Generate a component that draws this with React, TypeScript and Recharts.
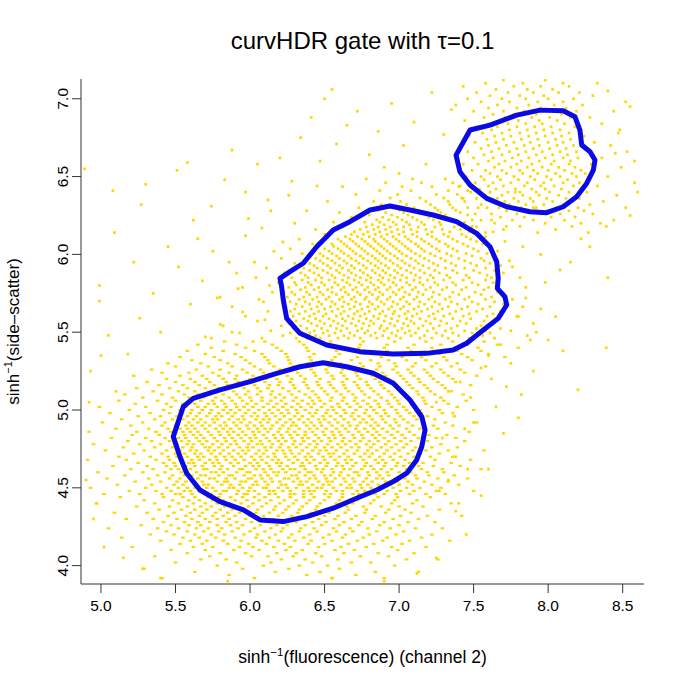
import { Scatter, ScatterChart, XAxis, YAxis } from "recharts";

// axis ticks
const X_TICKS = [5.0, 5.5, 6.0, 6.5, 7.0, 7.5, 8.0, 8.5];
const Y_TICKS = [4.0, 4.5, 5.0, 5.5, 6.0, 6.5, 7.0];

// gate contours (closed)
const GATE_LOW = [
  [5.485, 4.829], [5.552, 5.021], [5.619, 5.075], [5.798, 5.129], [6.0, 5.182],
  [6.179, 5.236], [6.335, 5.278], [6.491, 5.304], [6.648, 5.278], [6.827, 5.236],
  [6.961, 5.172], [7.073, 5.064], [7.152, 4.957], [7.174, 4.872], [7.152, 4.764],
  [7.118, 4.679], [7.051, 4.594], [6.961, 4.54], [6.85, 4.486], [6.715, 4.433],
  [6.558, 4.369], [6.38, 4.315], [6.223, 4.283], [6.067, 4.294], [5.955, 4.358],
  [5.798, 4.411], [5.664, 4.486], [5.575, 4.594], [5.53, 4.7],
];
const GATE_MID = [
  [6.805, 6.285], [6.939, 6.311], [7.073, 6.285], [7.229, 6.253], [7.386, 6.21],
  [7.52, 6.135], [7.61, 6.049], [7.655, 5.953], [7.665, 5.846], [7.659, 5.782],
  [7.71, 5.728], [7.722, 5.675], [7.665, 5.589], [7.565, 5.514], [7.453, 5.429],
  [7.363, 5.386], [7.185, 5.364], [6.961, 5.36], [6.738, 5.375], [6.514, 5.418],
  [6.335, 5.493], [6.246, 5.589], [6.223, 5.707], [6.212, 5.792], [6.201, 5.846],
  [6.268, 5.889], [6.357, 5.943], [6.447, 6.049], [6.558, 6.157], [6.67, 6.21],
];
const GATE_HIGH = [
  [7.382, 6.638], [7.476, 6.799], [7.61, 6.831], [7.789, 6.895], [7.945, 6.927],
  [8.101, 6.923], [8.18, 6.884], [8.213, 6.799], [8.225, 6.703], [8.281, 6.66],
  [8.314, 6.606], [8.303, 6.542], [8.258, 6.456], [8.191, 6.37], [8.101, 6.306],
  [7.99, 6.268], [7.878, 6.274], [7.722, 6.306], [7.588, 6.36], [7.476, 6.446],
  [7.408, 6.531],
];

// events of the lower population; side-scatter is binned there: [y, x values]
const LOWER_ROWS: [number, number[]][] = [
  [3.92, [5.41, 6.03, 6.55, 6.9]],
  [3.94, [5.86, 6.38, 6.71]],
  [3.96, [5.63, 6.17, 6.47, 6.84, 7.13]],
  [3.98, [5.29, 5.95, 6.26, 6.6]],
  [4.0, [5.78, 6.09, 6.33, 6.52, 6.97]],
  [4.02, [5.5, 5.91, 6.14, 6.42, 6.68, 6.81]],
  [4.04, [5.67, 5.84, 6.21, 6.37, 6.59, 7.05, 7.26]],
  [4.06, [5.36, 5.73, 6.01, 6.12, 6.29, 6.48, 6.74, 6.93]],
  [4.08, [5.58, 5.8, 5.97, 6.18, 6.31, 6.44, 6.63, 6.86, 7.1]],
  [4.1, [5.47, 5.7, 5.89, 6.06, 6.24, 6.35, 6.57, 6.7, 6.99]],
  [4.12, [5.21, 5.62, 5.75, 5.93, 6.02, 6.16, 6.27, 6.46, 6.61, 6.78, 6.95, 7.18]],
  [4.14, [5.53, 5.68, 5.85, 5.99, 6.11, 6.23, 6.39, 6.5, 6.66, 6.83, 7.02]],
  [4.16, [5.4, 5.6, 5.71, 5.82, 5.94, 6.08, 6.19, 6.3, 6.41, 6.55, 6.72, 6.89, 7.07, 7.34]],
  [4.18, [5.14, 5.55, 5.66, 5.77, 5.9, 6.04, 6.13, 6.26, 6.36, 6.49, 6.62, 6.76, 6.92, 7.15]],
  [4.2, [5.33, 5.49, 5.63, 5.74, 5.83, 5.96, 6.05, 6.17, 6.28, 6.4, 6.53, 6.64, 6.8, 6.98, 7.22]],
  [4.22, [5.44, 5.58, 5.69, 5.79, 5.88, 6.0, 6.1, 6.21, 6.33, 6.45, 6.58, 6.69, 6.85, 7.03]],
  [4.24, [5.05, 5.38, 5.52, 5.64, 5.72, 5.81, 5.92, 6.03, 6.14, 6.22, 6.34, 6.43, 6.56, 6.67, 6.79, 6.94, 7.11, 7.29]],
  [4.26, [5.27, 5.47, 5.59, 5.67, 5.78, 5.87, 5.95, 6.07, 6.18, 6.25, 6.37, 6.48, 6.6, 6.73, 6.87, 7.0]],
  [4.28, [5.42, 5.56, 5.65, 5.73, 5.84, 5.91, 6.01, 6.12, 6.2, 6.31, 6.42, 6.51, 6.63, 6.75, 6.9, 7.06, 7.24]],
  [4.3, [5.17, 5.35, 5.51, 5.61, 5.7, 5.78, 5.86, 5.97, 6.06, 6.15, 6.27, 6.36, 6.46, 6.57, 6.68, 6.82, 6.96, 7.13]],
  [4.32, [5.45, 5.57, 5.66, 5.75, 5.82, 5.9, 6.0, 6.09, 6.19, 6.28, 6.39, 6.5, 6.59, 6.71, 6.84, 7.01, 7.19, 7.42]],
  [4.34, [5.09, 5.31, 5.49, 5.6, 5.68, 5.77, 5.85, 5.93, 6.04, 6.13, 6.22, 6.32, 6.41, 6.53, 6.64, 6.77, 6.91, 7.08]],
  [4.36, [5.39, 5.54, 5.63, 5.71, 5.8, 5.88, 5.96, 6.05, 6.16, 6.24, 6.33, 6.44, 6.55, 6.66, 6.78, 6.93, 7.04, 7.27]],
  [4.38, [5.24, 5.46, 5.58, 5.67, 5.74, 5.83, 5.91, 5.99, 6.08, 6.17, 6.26, 6.35, 6.45, 6.56, 6.65, 6.76, 6.88, 7.0, 7.16]],
  [4.4, [4.97, 5.36, 5.52, 5.62, 5.7, 5.78, 5.86, 5.94, 6.02, 6.11, 6.2, 6.29, 6.38, 6.47, 6.58, 6.69, 6.81, 6.95, 7.09, 7.35]],
  [4.42, [5.29, 5.48, 5.59, 5.66, 5.75, 5.82, 5.9, 5.98, 6.06, 6.14, 6.23, 6.31, 6.4, 6.5, 6.6, 6.72, 6.83, 6.97, 7.12]],
  [4.44, [5.13, 5.42, 5.55, 5.63, 5.72, 5.79, 5.87, 5.95, 6.03, 6.1, 6.19, 6.27, 6.36, 6.43, 6.53, 6.62, 6.74, 6.86, 6.99, 7.21]],
  [4.46, [5.02, 5.26, 5.41, 5.5, 5.53, 5.61, 5.7, 5.74, 5.8, 5.91, 5.96, 5.98, 6.06, 6.13, 6.17, 6.27, 6.3, 6.36, 6.41, 6.5, 6.54, 6.62, 6.69, 6.73, 6.84, 6.9, 6.98, 7.07, 7.18, 7.31]],
  [4.48, [5.19, 5.37, 5.47, 5.56, 5.6, 5.66, 5.77, 5.82, 5.84, 5.92, 5.99, 6.03, 6.13, 6.16, 6.22, 6.27, 6.36, 6.4, 6.43, 6.51, 6.58, 6.62, 6.72, 6.77, 6.83, 6.92, 7.01, 7.1, 7.25, 7.5]],
  [4.5, [4.93, 5.3, 5.44, 5.52, 5.58, 5.63, 5.71, 5.75, 5.86, 5.89, 5.95, 6.0, 6.09, 6.11, 6.19, 6.25, 6.31, 6.39, 6.45, 6.48, 6.56, 6.65, 6.68, 6.75, 6.81, 6.88, 6.96, 7.05, 7.14, 7.28]],
  [4.52, [5.11, 5.34, 5.49, 5.55, 5.64, 5.69, 5.72, 5.81, 5.87, 5.93, 6.02, 6.05, 6.12, 6.21, 6.24, 6.33, 6.35, 6.42, 6.49, 6.53, 6.61, 6.67, 6.74, 6.79, 6.86, 6.94, 7.0, 7.09, 7.22, 7.4]],
  [4.54, [5.23, 5.4, 5.51, 5.57, 5.62, 5.68, 5.78, 5.83, 5.85, 5.94, 5.97, 6.04, 6.1, 6.15, 6.2, 6.29, 6.34, 6.38, 6.46, 6.52, 6.55, 6.64, 6.7, 6.76, 6.82, 6.91, 6.99, 7.06, 7.17, 7.33]],
  [4.56, [5.04, 5.32, 5.46, 5.53, 5.6, 5.65, 5.73, 5.76, 5.84, 5.9, 5.99, 6.01, 6.08, 6.14, 6.23, 6.26, 6.32, 6.4, 6.44, 6.51, 6.57, 6.63, 6.69, 6.78, 6.85, 6.89, 6.97, 7.04, 7.12, 7.26, 7.46]],
  [4.58, [5.16, 5.38, 5.48, 5.56, 5.61, 5.67, 5.7, 5.79, 5.86, 5.88, 5.96, 6.03, 6.07, 6.12, 6.18, 6.28, 6.31, 6.37, 6.43, 6.5, 6.54, 6.6, 6.66, 6.73, 6.8, 6.87, 6.93, 7.02, 7.11, 7.2, 7.37]],
  [4.6, [4.98, 5.28, 5.43, 5.54, 5.58, 5.64, 5.74, 5.77, 5.82, 5.91, 5.98, 6.0, 6.1, 6.16, 6.19, 6.24, 6.33, 6.39, 6.41, 6.48, 6.56, 6.61, 6.7, 6.72, 6.79, 6.85, 6.92, 7.0, 7.08, 7.19, 7.3]],
  [4.62, [5.2, 5.35, 5.47, 5.52, 5.6, 5.69, 5.71, 5.8, 5.85, 5.93, 5.95, 6.04, 6.09, 6.14, 6.22, 6.27, 6.3, 6.37, 6.45, 6.49, 6.55, 6.63, 6.67, 6.75, 6.83, 6.88, 6.95, 7.05, 7.15, 7.29, 7.55]],
  [4.64, [5.08, 5.31, 5.44, 5.5, 5.57, 5.63, 5.68, 5.76, 5.81, 5.89, 5.97, 6.02, 6.06, 6.13, 6.2, 6.25, 6.34, 6.36, 6.44, 6.51, 6.58, 6.62, 6.69, 6.77, 6.81, 6.9, 6.98, 7.03, 7.13, 7.23, 7.41]],
  [4.66, [5.25, 5.42, 5.49, 5.59, 5.62, 5.7, 5.75, 5.79, 5.87, 5.92, 6.0, 6.05, 6.11, 6.18, 6.21, 6.29, 6.35, 6.4, 6.47, 6.52, 6.59, 6.65, 6.71, 6.78, 6.86, 6.91, 6.99, 7.07, 7.16, 7.35]],
  [4.68, [4.91, 5.17, 5.37, 5.46, 5.54, 5.61, 5.66, 5.73, 5.78, 5.84, 5.9, 5.96, 6.03, 6.08, 6.15, 6.19, 6.26, 6.32, 6.38, 6.43, 6.5, 6.57, 6.64, 6.68, 6.76, 6.84, 6.89, 6.96, 7.04, 7.12, 7.24, 7.48]],
  [4.7, [5.12, 5.33, 5.45, 5.51, 5.58, 5.65, 5.69, 5.77, 5.83, 5.88, 5.94, 6.01, 6.07, 6.12, 6.17, 6.24, 6.3, 6.37, 6.41, 6.49, 6.54, 6.6, 6.66, 6.74, 6.8, 6.87, 6.94, 7.01, 7.1, 7.21, 7.36]],
  [4.72, [5.22, 5.41, 5.5, 5.56, 5.63, 5.67, 5.74, 5.8, 5.86, 5.92, 5.97, 6.04, 6.09, 6.16, 6.23, 6.28, 6.33, 6.39, 6.46, 6.53, 6.56, 6.63, 6.7, 6.77, 6.82, 6.9, 6.97, 7.06, 7.14, 7.27]],
  [4.74, [5.03, 5.29, 5.44, 5.53, 5.6, 5.64, 5.72, 5.76, 5.82, 5.89, 5.95, 5.99, 6.06, 6.11, 6.18, 6.22, 6.27, 6.35, 6.42, 6.47, 6.51, 6.58, 6.65, 6.72, 6.79, 6.85, 6.92, 7.0, 7.09, 7.18, 7.33, 7.57]],
  [4.76, [5.15, 5.36, 5.48, 5.55, 5.61, 5.7, 5.73, 5.79, 5.85, 5.93, 5.98, 6.02, 6.1, 6.14, 6.2, 6.26, 6.31, 6.38, 6.44, 6.5, 6.55, 6.61, 6.68, 6.73, 6.81, 6.88, 6.95, 7.03, 7.11, 7.22, 7.39]],
  [4.78, [4.95, 5.26, 5.4, 5.51, 5.58, 5.62, 5.68, 5.75, 5.81, 5.87, 5.91, 5.99, 6.05, 6.08, 6.15, 6.21, 6.29, 6.34, 6.4, 6.45, 6.52, 6.59, 6.64, 6.71, 6.78, 6.83, 6.91, 6.98, 7.05, 7.15, 7.28]],
  [4.8, [5.18, 5.34, 5.46, 5.54, 5.59, 5.66, 5.71, 5.78, 5.84, 5.9, 5.96, 6.01, 6.07, 6.13, 6.19, 6.24, 6.3, 6.36, 6.43, 6.48, 6.54, 6.62, 6.67, 6.74, 6.8, 6.86, 6.93, 7.01, 7.08, 7.19, 7.44]],
  [4.82, [5.07, 5.3, 5.43, 5.52, 5.57, 5.64, 5.69, 5.76, 5.83, 5.88, 5.94, 6.0, 6.04, 6.11, 6.17, 6.22, 6.28, 6.35, 6.39, 6.46, 6.53, 6.57, 6.63, 6.7, 6.76, 6.84, 6.9, 6.97, 7.04, 7.13, 7.25, 7.38]],
  [4.84, [5.21, 5.39, 5.49, 5.56, 5.62, 5.67, 5.74, 5.8, 5.86, 5.92, 5.97, 6.03, 6.09, 6.16, 6.21, 6.27, 6.32, 6.37, 6.44, 6.5, 6.56, 6.61, 6.69, 6.75, 6.82, 6.87, 6.95, 7.02, 7.1, 7.2, 7.32]],
  [4.86, [4.92, 5.24, 5.37, 5.47, 5.55, 5.6, 5.65, 5.72, 5.79, 5.85, 5.89, 5.95, 6.02, 6.06, 6.12, 6.19, 6.25, 6.3, 6.37, 6.42, 6.49, 6.55, 6.6, 6.66, 6.73, 6.79, 6.85, 6.92, 6.99, 7.07, 7.17, 7.47]],
  [4.88, [5.1, 5.32, 5.45, 5.53, 5.58, 5.63, 5.7, 5.77, 5.82, 5.87, 5.93, 5.99, 6.05, 6.1, 6.14, 6.2, 6.26, 6.33, 6.4, 6.45, 6.51, 6.58, 6.64, 6.71, 6.77, 6.83, 6.89, 6.96, 7.05, 7.14, 7.26]],
  [4.9, [5.2, 5.41, 5.5, 5.57, 5.61, 5.68, 5.73, 5.8, 5.84, 5.91, 5.98, 6.03, 6.08, 6.15, 6.22, 6.28, 6.31, 6.38, 6.43, 6.48, 6.55, 6.62, 6.67, 6.72, 6.81, 6.86, 6.94, 7.0, 7.09, 7.23, 7.36]],
  [4.92, [5.01, 5.28, 5.43, 5.52, 5.59, 5.65, 5.7, 5.76, 5.83, 5.89, 5.94, 6.0, 6.07, 6.12, 6.18, 6.24, 6.29, 6.36, 6.41, 6.47, 6.53, 6.59, 6.66, 6.74, 6.78, 6.84, 6.91, 6.98, 7.06, 7.16, 7.31, 7.52]],
  [4.94, [5.14, 5.36, 5.48, 5.55, 5.62, 5.67, 5.75, 5.78, 5.86, 5.92, 5.96, 6.04, 6.09, 6.13, 6.2, 6.27, 6.33, 6.39, 6.46, 6.5, 6.57, 6.63, 6.7, 6.76, 6.82, 6.89, 6.97, 7.03, 7.12, 7.24]],
  [4.96, [5.25, 5.4, 5.51, 5.58, 5.64, 5.71, 5.77, 5.81, 5.88, 5.95, 6.01, 6.05, 6.11, 6.17, 6.23, 6.3, 6.35, 6.42, 6.49, 6.54, 6.61, 6.68, 6.73, 6.8, 6.88, 6.93, 7.01, 7.1, 7.19, 7.37]],
  [4.98, [5.06, 5.33, 5.46, 5.54, 5.6, 5.66, 5.73, 5.79, 5.85, 5.9, 5.97, 6.03, 6.1, 6.15, 6.21, 6.26, 6.32, 6.4, 6.44, 6.51, 6.58, 6.64, 6.69, 6.77, 6.85, 6.91, 6.99, 7.07, 7.15, 7.29]],
  [5.0, [5.19, 5.42, 5.53, 5.61, 5.68, 5.74, 5.82, 5.87, 5.93, 5.99, 6.06, 6.13, 6.19, 6.25, 6.31, 6.37, 6.45, 6.52, 6.56, 6.63, 6.71, 6.78, 6.83, 6.9, 6.98, 7.05, 7.14, 7.27, 7.5]],
  [5.02, [4.99, 5.3, 5.47, 5.57, 5.65, 5.7, 5.78, 5.84, 5.91, 5.96, 6.02, 6.09, 6.16, 6.22, 6.28, 6.34, 6.41, 6.48, 6.55, 6.6, 6.67, 6.74, 6.81, 6.87, 6.95, 7.03, 7.11, 7.22, 7.39]],
  [5.04, [5.23, 5.44, 5.55, 5.63, 5.72, 5.76, 5.83, 5.9, 5.98, 6.04, 6.12, 6.18, 6.24, 6.32, 6.39, 6.43, 6.5, 6.59, 6.65, 6.72, 6.79, 6.86, 6.93, 7.0, 7.09, 7.18, 7.33]],
  [5.06, [5.12, 5.38, 5.5, 5.6, 5.67, 5.75, 5.81, 5.88, 5.95, 6.01, 6.08, 6.14, 6.21, 6.29, 6.35, 6.42, 6.47, 6.54, 6.62, 6.7, 6.76, 6.84, 6.92, 6.99, 7.08, 7.17, 7.3, 7.45]],
  [5.08, [5.28, 5.48, 5.59, 5.69, 5.77, 5.86, 5.93, 6.0, 6.08, 6.17, 6.23, 6.31, 6.4, 6.46, 6.55, 6.63, 6.71, 6.8, 6.88, 6.97, 7.06, 7.16, 7.28]],
  [5.1, [5.16, 5.41, 5.56, 5.65, 5.73, 5.82, 5.91, 5.97, 6.05, 6.14, 6.2, 6.28, 6.37, 6.44, 6.52, 6.61, 6.69, 6.77, 6.86, 6.95, 7.04, 7.13, 7.24, 7.43]],
  [5.12, [5.35, 5.52, 5.63, 5.74, 5.8, 5.89, 5.99, 6.07, 6.15, 6.26, 6.33, 6.42, 6.5, 6.58, 6.66, 6.75, 6.83, 6.93, 7.02, 7.12, 7.21, 7.35]],
  [5.14, [5.24, 5.46, 5.58, 5.7, 5.79, 5.87, 5.96, 6.05, 6.12, 6.22, 6.3, 6.39, 6.48, 6.56, 6.64, 6.73, 6.81, 6.9, 7.0, 7.09, 7.19, 7.31]],
  [5.16, [5.39, 5.55, 5.66, 5.76, 5.85, 5.94, 6.03, 6.13, 6.19, 6.29, 6.38, 6.46, 6.54, 6.63, 6.72, 6.79, 6.88, 6.98, 7.07, 7.17, 7.29, 7.48]],
  [5.18, [5.31, 5.5, 5.63, 5.73, 5.84, 5.92, 6.01, 6.1, 6.2, 6.27, 6.36, 6.45, 6.53, 6.62, 6.7, 6.78, 6.87, 6.96, 7.05, 7.14, 7.26, 7.38]],
  [5.2, [5.44, 5.6, 5.71, 5.82, 5.9, 6.0, 6.11, 6.18, 6.28, 6.37, 6.47, 6.56, 6.65, 6.74, 6.84, 6.93, 7.03, 7.13, 7.23, 7.36]],
  [5.22, [5.22, 5.53, 5.68, 5.79, 5.91, 6.02, 6.14, 6.25, 6.34, 6.44, 6.55, 6.63, 6.72, 6.82, 6.91, 7.01, 7.1, 7.21, 7.33, 7.52]],
  [5.24, [5.41, 5.59, 5.75, 5.86, 5.98, 6.09, 6.21, 6.32, 6.43, 6.52, 6.61, 6.71, 6.8, 6.89, 6.99, 7.08, 7.19, 7.3, 7.44]],
  [5.26, [5.34, 5.64, 5.8, 5.95, 6.07, 6.2, 6.31, 6.41, 6.51, 6.62, 6.73, 6.85, 6.96, 7.06, 7.17, 7.28, 7.41]],
  [5.28, [5.5, 5.72, 5.88, 6.03, 6.16, 6.29, 6.4, 6.53, 6.64, 6.76, 6.87, 6.98, 7.09, 7.22, 7.35, 7.58]],
  [5.3, [5.45, 5.67, 5.85, 6.0, 6.13, 6.27, 6.39, 6.5, 6.61, 6.74, 6.86, 6.97, 7.11, 7.25, 7.39]],
  [5.32, [5.61, 5.8, 5.97, 6.12, 6.26, 6.41, 6.55, 6.68, 6.81, 6.93, 7.05, 7.18, 7.32, 7.49]],
  [5.34, [5.53, 5.76, 5.94, 6.1, 6.25, 6.4, 6.57, 6.72, 6.88, 7.02, 7.15, 7.3, 7.46, 7.71]],
  [5.36, [5.7, 5.9, 6.08, 6.24, 6.43, 6.6, 6.77, 6.94, 7.1, 7.27, 7.42, 7.6]],
  [5.38, [5.58, 5.82, 6.03, 6.21, 6.39, 6.58, 6.75, 6.92, 7.08, 7.23, 7.39, 7.55]],
  [5.4, [5.74, 5.97, 6.18, 6.38, 6.56, 6.73, 6.9, 7.06, 7.22, 7.37, 7.53, 7.8]],
  [5.42, [5.65, 5.91, 6.15, 6.36, 6.55, 6.74, 6.92, 7.1, 7.28, 7.46, 7.66]],
  [5.44, [5.83, 6.1, 6.33, 6.54, 6.76, 6.97, 7.18, 7.36, 7.57]],
];

// events of the middle population: [y, x values]
const MIDDLE_ROWS: [number, number[]][] = [
  [5.462, [5.74, 6.08, 6.31, 6.38, 6.47, 6.59, 6.66, 6.74, 6.85, 6.93, 7.01, 7.14, 7.22, 7.33, 7.47, 7.64]],
  [5.478, [6.22, 6.35, 6.44, 6.53, 6.63, 6.7, 6.81, 6.89, 6.98, 7.08, 7.17, 7.29, 7.4, 7.56, 7.86]],
  [5.495, [5.93, 6.27, 6.4, 6.49, 6.57, 6.67, 6.77, 6.84, 6.95, 7.04, 7.11, 7.25, 7.36, 7.49, 7.61]],
  [5.509, [6.14, 6.32, 6.43, 6.52, 6.61, 6.72, 6.79, 6.9, 6.99, 7.07, 7.19, 7.31, 7.44, 7.58, 7.75]],
  [5.524, [6.29, 6.38, 6.48, 6.58, 6.65, 6.75, 6.87, 6.92, 7.02, 7.13, 7.23, 7.35, 7.52, 7.68]],
  [5.541, [5.82, 6.21, 6.34, 6.45, 6.54, 6.62, 6.71, 6.8, 6.88, 6.97, 7.06, 7.16, 7.27, 7.39, 7.55]],
  [5.556, [6.26, 6.41, 6.5, 6.59, 6.68, 6.76, 6.83, 6.94, 7.03, 7.1, 7.21, 7.32, 7.45, 7.62, 7.9]],
  [5.572, [6.05, 6.31, 6.39, 6.47, 6.56, 6.64, 6.73, 6.81, 6.9, 6.99, 7.08, 7.18, 7.28, 7.41, 7.57]],
  [5.587, [6.24, 6.36, 6.44, 6.53, 6.62, 6.69, 6.78, 6.86, 6.95, 7.05, 7.14, 7.24, 7.36, 7.48, 7.65]],
  [5.603, [5.97, 6.29, 6.4, 6.49, 6.58, 6.66, 6.74, 6.83, 6.91, 7.0, 7.09, 7.2, 7.3, 7.43, 7.59, 7.79]],
  [5.618, [6.33, 6.43, 6.51, 6.61, 6.7, 6.77, 6.87, 6.96, 7.04, 7.12, 7.23, 7.34, 7.47, 7.63]],
  [5.634, [6.12, 6.27, 6.37, 6.46, 6.55, 6.63, 6.72, 6.8, 6.89, 6.97, 7.06, 7.15, 7.26, 7.38, 7.52, 7.68]],
  [5.649, [6.3, 6.41, 6.5, 6.59, 6.67, 6.75, 6.84, 6.93, 7.01, 7.1, 7.19, 7.29, 7.42, 7.56]],
  [5.664, [5.88, 6.24, 6.35, 6.45, 6.54, 6.62, 6.7, 6.79, 6.86, 6.95, 7.03, 7.13, 7.22, 7.33, 7.46, 7.61, 7.83]],
  [5.68, [6.31, 6.4, 6.48, 6.57, 6.66, 6.74, 6.82, 6.9, 6.99, 7.07, 7.17, 7.27, 7.39, 7.53, 7.7]],
  [5.695, [6.09, 6.27, 6.37, 6.46, 6.55, 6.63, 6.71, 6.8, 6.88, 6.96, 7.05, 7.14, 7.24, 7.35, 7.49, 7.64]],
  [5.711, [6.33, 6.42, 6.51, 6.6, 6.68, 6.77, 6.85, 6.92, 7.01, 7.1, 7.2, 7.31, 7.44, 7.58, 7.76]],
  [5.726, [5.8, 6.25, 6.36, 6.45, 6.53, 6.62, 6.7, 6.78, 6.86, 6.94, 7.03, 7.12, 7.22, 7.34, 7.47, 7.62]],
  [5.742, [6.3, 6.4, 6.49, 6.58, 6.66, 6.74, 6.82, 6.89, 6.98, 7.07, 7.16, 7.27, 7.4, 7.55, 7.69]],
  [5.757, [6.15, 6.28, 6.38, 6.47, 6.55, 6.64, 6.72, 6.8, 6.87, 6.96, 7.04, 7.13, 7.23, 7.36, 7.51, 7.66]],
  [5.773, [6.34, 6.43, 6.52, 6.61, 6.69, 6.77, 6.84, 6.92, 7.0, 7.09, 7.18, 7.29, 7.42, 7.57]],
  [5.788, [5.95, 6.26, 6.37, 6.46, 6.55, 6.63, 6.71, 6.79, 6.86, 6.94, 7.02, 7.11, 7.21, 7.32, 7.45, 7.6, 7.85]],
  [5.804, [6.31, 6.41, 6.5, 6.59, 6.67, 6.75, 6.83, 6.9, 6.98, 7.07, 7.16, 7.26, 7.38, 7.53, 7.67]],
  [5.819, [6.19, 6.3, 6.39, 6.48, 6.57, 6.65, 6.73, 6.81, 6.88, 6.96, 7.05, 7.14, 7.24, 7.36, 7.49, 7.63]],
  [5.835, [6.35, 6.44, 6.53, 6.62, 6.7, 6.78, 6.86, 6.93, 7.01, 7.1, 7.19, 7.3, 7.43, 7.58]],
  [5.85, [6.04, 6.28, 6.39, 6.48, 6.57, 6.66, 6.74, 6.81, 6.89, 6.97, 7.05, 7.14, 7.23, 7.34, 7.47, 7.62, 7.81]],
  [5.866, [6.37, 6.46, 6.55, 6.63, 6.71, 6.79, 6.87, 6.94, 7.02, 7.11, 7.21, 7.32, 7.45, 7.59]],
  [5.881, [6.23, 6.34, 6.43, 6.52, 6.6, 6.68, 6.76, 6.84, 6.91, 6.99, 7.08, 7.17, 7.27, 7.39, 7.54, 7.7]],
  [5.897, [6.4, 6.49, 6.58, 6.66, 6.74, 6.82, 6.89, 6.97, 7.05, 7.14, 7.24, 7.36, 7.5, 7.64]],
  [5.912, [6.11, 6.36, 6.45, 6.54, 6.62, 6.7, 6.78, 6.86, 6.93, 7.01, 7.1, 7.2, 7.31, 7.44, 7.58]],
  [5.928, [6.43, 6.52, 6.6, 6.68, 6.76, 6.84, 6.91, 6.99, 7.07, 7.16, 7.26, 7.38, 7.52, 7.68]],
  [5.943, [6.3, 6.4, 6.49, 6.57, 6.65, 6.73, 6.81, 6.88, 6.96, 7.04, 7.13, 7.23, 7.35, 7.48, 7.61]],
  [5.959, [6.47, 6.55, 6.63, 6.71, 6.79, 6.86, 6.94, 7.02, 7.11, 7.2, 7.31, 7.44, 7.57, 7.74]],
  [5.974, [6.21, 6.44, 6.52, 6.6, 6.68, 6.76, 6.84, 6.91, 6.99, 7.08, 7.17, 7.28, 7.4, 7.55]],
  [5.99, [6.49, 6.58, 6.66, 6.74, 6.82, 6.89, 6.97, 7.05, 7.14, 7.24, 7.35, 7.49, 7.63]],
  [6.005, [6.35, 6.47, 6.55, 6.63, 6.71, 6.79, 6.87, 6.94, 7.02, 7.11, 7.21, 7.32, 7.45, 7.59]],
  [6.021, [6.53, 6.61, 6.69, 6.77, 6.85, 6.92, 7.0, 7.08, 7.17, 7.27, 7.39, 7.53, 7.66]],
  [6.036, [6.27, 6.5, 6.59, 6.67, 6.75, 6.83, 6.9, 6.98, 7.06, 7.15, 7.25, 7.36, 7.5]],
  [6.052, [6.56, 6.65, 6.73, 6.81, 6.88, 6.96, 7.04, 7.13, 7.22, 7.33, 7.46, 7.61]],
  [6.067, [6.42, 6.55, 6.63, 6.71, 6.79, 6.86, 6.94, 7.02, 7.11, 7.2, 7.31, 7.43, 7.56]],
  [6.083, [6.61, 6.69, 6.77, 6.84, 6.92, 7.0, 7.08, 7.17, 7.27, 7.39, 7.52, 7.71]],
  [6.098, [6.33, 6.59, 6.67, 6.75, 6.83, 6.9, 6.98, 7.06, 7.15, 7.25, 7.36, 7.48]],
  [6.114, [6.64, 6.72, 6.8, 6.88, 6.96, 7.04, 7.12, 7.22, 7.33, 7.45, 7.58]],
  [6.129, [6.5, 6.68, 6.76, 6.84, 6.92, 7.0, 7.09, 7.19, 7.3, 7.42]],
  [6.145, [6.7, 6.79, 6.87, 6.95, 7.03, 7.12, 7.22, 7.34, 7.47, 7.63]],
  [6.16, [6.44, 6.74, 6.83, 6.91, 6.99, 7.08, 7.18, 7.29, 7.41]],
  [6.176, [6.62, 6.78, 6.86, 6.94, 7.03, 7.13, 7.24, 7.37, 7.52]],
  [6.191, [6.82, 6.9, 6.98, 7.07, 7.17, 7.28, 7.4]],
  [6.207, [6.56, 6.77, 6.87, 6.96, 7.05, 7.15, 7.27, 7.44]],
  [6.222, [6.85, 6.93, 7.02, 7.12, 7.23, 7.35, 7.49]],
  [6.238, [6.68, 6.89, 6.99, 7.09, 7.2, 7.32]],
  [6.253, [6.8, 6.95, 7.06, 7.18, 7.31, 7.46]],
  [6.269, [6.6, 6.91, 7.03, 7.15, 7.28, 7.41]],
  [6.284, [6.86, 7.0, 7.13, 7.26, 7.38]],
  [6.3, [6.73, 6.96, 7.1, 7.24, 7.36, 7.53]],
  [6.32, [6.88, 7.05, 7.21, 7.34]],
  [6.34, [6.52, 6.83, 7.01, 7.18, 7.33, 7.44]],
  [6.362, [6.94, 7.14, 7.3, 7.42]],
  [6.385, [6.71, 6.99, 7.25, 7.39]],
  [6.41, [6.87, 7.08, 7.33, 7.46]],
  [6.435, [6.62, 7.02, 7.22, 7.4]],
  [6.46, [6.91, 7.15, 7.36]],
  [6.485, [6.78, 7.09, 7.31]],
];

// events of the upper population: [y, x values]
const UPPER_ROWS: [number, number[]][] = [
  [6.14, [7.58, 7.93, 8.27]],
  [6.16, [7.7, 8.05]],
  [6.18, [7.49, 7.81, 8.16, 8.39]],
  [6.2, [7.64, 7.98, 8.22]],
  [6.22, [7.55, 7.76, 7.9, 8.11, 8.44]],
  [6.24, [7.68, 7.84, 8.02, 8.18]],
  [6.26, [7.51, 7.62, 7.79, 7.95, 8.08, 8.3]],
  [6.28, [7.72, 7.87, 7.99, 8.14, 8.24]],
  [6.3, [7.46, 7.59, 7.67, 7.82, 7.92, 8.06, 8.2, 8.52]],
  [6.32, [7.55, 7.74, 7.85, 7.97, 8.1, 8.28]],
  [6.34, [7.63, 7.71, 7.8, 7.9, 8.03, 8.16, 8.37]],
  [6.36, [7.43, 7.52, 7.66, 7.77, 7.88, 7.99, 8.12, 8.21]],
  [6.38, [7.58, 7.69, 7.83, 7.94, 8.07, 8.19, 8.46]],
  [6.4, [7.48, 7.61, 7.73, 7.81, 7.92, 8.01, 8.14, 8.26]],
  [6.42, [7.54, 7.65, 7.78, 7.89, 7.98, 8.09, 8.23]],
  [6.44, [7.41, 7.6, 7.7, 7.84, 7.95, 8.04, 8.17, 8.33]],
  [6.46, [7.51, 7.63, 7.75, 7.86, 7.97, 8.1, 8.21, 8.58]],
  [6.48, [7.57, 7.68, 7.8, 7.91, 8.02, 8.13, 8.28]],
  [6.5, [7.45, 7.55, 7.66, 7.77, 7.88, 7.99, 8.08, 8.19, 8.4]],
  [6.52, [7.61, 7.72, 7.83, 7.93, 8.05, 8.16, 8.25]],
  [6.54, [7.49, 7.58, 7.69, 7.81, 7.9, 8.0, 8.11, 8.22]],
  [6.56, [7.64, 7.75, 7.86, 7.96, 8.07, 8.18, 8.49]],
  [6.58, [7.43, 7.53, 7.67, 7.79, 7.89, 8.02, 8.14, 8.29]],
  [6.6, [7.6, 7.71, 7.82, 7.94, 8.04, 8.15]],
  [6.62, [7.5, 7.63, 7.76, 7.87, 7.98, 8.1, 8.2, 8.36]],
  [6.64, [7.57, 7.69, 7.8, 7.92, 8.03, 8.13]],
  [6.66, [7.46, 7.62, 7.74, 7.85, 7.96, 8.08, 8.19, 8.53]],
  [6.68, [7.55, 7.67, 7.79, 7.9, 8.01, 8.12]],
  [6.7, [7.6, 7.72, 7.84, 7.94, 8.06, 8.17, 8.42]],
  [6.72, [7.51, 7.65, 7.77, 7.88, 8.0, 8.1, 8.31]],
  [6.74, [7.59, 7.7, 7.82, 7.93, 8.05, 8.15]],
  [6.76, [7.47, 7.64, 7.75, 7.87, 7.98, 8.09, 8.24]],
  [6.78, [7.56, 7.69, 7.81, 7.92, 8.03, 8.14, 8.47]],
  [6.8, [7.62, 7.74, 7.86, 7.97, 8.08]],
  [6.82, [7.52, 7.66, 7.79, 7.91, 8.02, 8.18]],
  [6.84, [7.6, 7.73, 7.85, 7.96, 8.11, 8.36]],
  [6.86, [7.44, 7.68, 7.8, 7.94, 8.06]],
  [6.88, [7.57, 7.71, 7.89, 8.01, 8.15, 8.28]],
  [6.9, [7.63, 7.77, 7.92, 8.09]],
  [6.92, [7.5, 7.7, 7.84, 7.99, 8.19, 8.44]],
  [6.94, [7.6, 7.79, 7.95, 8.12]],
  [6.96, [7.38, 7.66, 7.87, 8.04, 8.23]],
  [6.98, [7.55, 7.74, 7.93, 8.1, 8.52]],
  [7.0, [7.46, 7.69, 7.85, 8.0, 8.17]],
  [7.02, [7.61, 7.81, 7.97, 8.3]],
  [7.04, [7.52, 7.73, 7.9, 8.07, 8.21]],
  [7.06, [7.65, 7.86, 8.03]],
  [7.08, [7.43, 7.77, 7.95, 8.14]],
  [7.1, [7.58, 7.83, 8.1]],
  [7.12, [7.7, 7.98]],
];

// scattered outliers around the three populations
const SPARSE: [number, number][] = [
  [4.89, 6.55], [5.08, 6.41], [5.09, 6.14], [5.27, 6.32], [5.3, 6.45], [5.51, 6.54],
  [5.58, 6.59], [5.88, 6.67], [6.34, 6.75], [6.5, 7.0], [6.55, 7.06], [6.65, 6.83],
  [4.99, 5.8], [4.99, 5.7], [5.26, 5.59], [5.45, 6.05], [5.62, 6.22], [5.74, 6.31],
  [5.83, 6.48], [5.97, 6.4], [6.05, 6.58], [6.12, 6.35], [6.2, 6.62], [6.28, 6.47],
  [6.41, 6.88], [6.47, 6.6], [6.58, 6.71], [6.72, 6.92], [6.8, 6.64], [6.86, 6.79],
  [6.95, 6.97], [7.03, 6.7], [7.1, 6.85], [7.18, 6.58], [7.22, 7.04], [7.3, 6.77],
  [7.35, 6.93], [6.9, 6.56], [7.0, 6.52], [5.35, 5.75], [5.52, 5.92], [5.6, 5.68],
  [5.68, 5.83], [5.75, 6.02], [5.86, 5.95], [5.92, 5.78], [5.97, 6.12], [5.65, 6.1],
  [5.8, 5.55], [5.4, 5.5], [5.18, 5.36], [5.05, 5.48], [4.93, 5.25], [5.1, 5.12],
  [5.22, 5.95], [5.0, 5.35], [4.9, 4.55], [4.95, 4.3], [5.02, 4.12], [5.15, 4.05],
  [5.28, 3.98], [5.4, 3.92], [4.92, 5.05], [4.97, 4.4], [7.45, 4.2], [7.38, 4.35],
  [7.6, 4.62], [7.7, 4.85], [7.65, 5.02], [7.82, 5.1], [7.75, 5.3], [7.9, 5.25],
  [8.0, 5.45], [8.1, 5.38], [8.2, 5.13], [8.39, 5.4], [8.05, 5.6], [7.92, 5.5],
  [7.85, 5.72], [7.98, 5.82], [8.15, 5.95], [8.28, 6.05], [8.4, 5.85], [7.55, 4.45],
  [7.25, 4.05], [7.12, 3.95], [7.5, 4.92], [7.62, 5.2], [7.8, 4.95], [7.95, 5.65],
  [8.08, 5.9], [8.22, 6.1], [8.35, 6.2], [8.55, 6.25], [8.6, 6.4], [8.4, 7.05],
  [8.55, 6.95], [8.48, 6.8], [8.58, 6.6], [8.33, 7.1], [8.45, 6.65], [6.55, 3.92],
  [6.9, 3.9], [5.85, 3.9], [7.25, 5.05], [7.33, 5.12], [7.41, 5.18], [7.48, 5.08],
  [7.55, 5.27], [7.6, 5.35], [7.68, 5.42], [7.72, 5.15], [7.36, 4.98], [7.44, 4.88],
  [7.29, 4.82], [7.38, 4.7], [7.46, 4.62], [7.33, 4.55], [7.27, 4.48], [7.4, 4.4],
  [5.88, 5.5], [6.02, 5.44], [6.1, 5.58], [5.95, 5.63], [6.06, 5.71], [5.91, 5.88],
  [6.13, 5.8], [6.03, 5.95], [6.16, 6.02], [6.08, 6.17], [6.22, 6.08], [6.3, 6.2],
  [6.38, 6.28], [6.26, 6.38], [6.45, 6.44], [6.14, 6.28], [5.99, 6.23], [5.78, 5.72],
  [5.7, 5.47], [7.8, 5.6], [7.76, 5.92], [7.83, 6.05], [7.72, 6.18], [7.9, 6.3],
  [7.62, 6.22], [7.78, 6.4], [7.88, 5.45], [7.95, 6.0],
];

const GOLD = "#FFD700";
const GATE_BLUE = "#0A0AE6";
const AXIS_GREY = "#333333";
const FONT = "'Liberation Sans', Arial, Helvetica, sans-serif";

const rowsToPoints = (rows: [number, number[]][]) =>
  rows.flatMap(([y, xs]) => xs.map((x) => ({ x, y })));
const pairsToPoints = (pairs: number[][]) => pairs.map(([x, y]) => ({ x, y }));

const lowerPoints = rowsToPoints(LOWER_ROWS);
const otherPoints = [
  ...rowsToPoints(MIDDLE_ROWS),
  ...rowsToPoints(UPPER_ROWS),
  ...pairsToPoints(SPARSE),
];

// binned rows read as short horizontal streaks
const StreakDot = (p: any) => (
  <rect x={p.cx - 1.8} y={p.cy - 1.1} width={3.6} height={2.2} fill={GOLD} />
);
const Dot = (p: any) => (
  <rect x={p.cx - 1.35} y={p.cy - 1.35} width={2.7} height={2.7} fill={GOLD} />
);
const NoDot = () => <g />;

function XTick({ x, y, payload }: any) {
  return (
    <text x={x} y={y + 18} textAnchor="middle" fontSize={15.5} fontFamily={FONT} fill="#000">
      {payload.value.toFixed(1)}
    </text>
  );
}

function YTick({ x, y, payload }: any) {
  const bx = x - 4;
  return (
    <text
      x={bx}
      y={y}
      transform={`rotate(-90, ${bx}, ${y})`}
      textAnchor="middle"
      fontSize={15.5}
      fontFamily={FONT}
      fill="#000"
    >
      {payload.value.toFixed(1)}
    </text>
  );
}

export default function App() {
  const gates = [GATE_LOW, GATE_MID, GATE_HIGH];
  return (
    <div style={{ position: "absolute", left: 0, top: 0, width: 685, height: 685, background: "#fff" }}>
      <ScatterChart width={685} height={685} margin={{ top: 79, right: 41, bottom: 41, left: 0 }}>
        <XAxis
          type="number"
          dataKey="x"
          domain={[4.866, 8.643]}
          allowDataOverflow
          ticks={X_TICKS}
          interval={0}
          height={60}
          tickSize={9}
          tickMargin={0}
          stroke={AXIS_GREY}
          tick={<XTick />}
        />
        <YAxis
          type="number"
          dataKey="y"
          domain={[3.882, 7.127]}
          allowDataOverflow
          ticks={Y_TICKS}
          interval={0}
          width={81}
          tickSize={9}
          tickMargin={0}
          stroke={AXIS_GREY}
          tick={<YTick />}
        />
        <Scatter data={lowerPoints} shape={StreakDot} isAnimationActive={false} />
        <Scatter data={otherPoints} shape={Dot} isAnimationActive={false} />
        {gates.map((g, i) => (
          <Scatter
            key={i}
            data={pairsToPoints(g)}
            fill={GATE_BLUE}
            shape={NoDot}
            line={{ stroke: GATE_BLUE, strokeWidth: 5, strokeLinejoin: "round" }}
            lineType="joint"
            lineJointType="linearClosed"
            isAnimationActive={false}
          />
        ))}
      </ScatterChart>
      <svg
        width={685}
        height={685}
        style={{ position: "absolute", left: 0, top: 0, pointerEvents: "none" }}
        fontFamily={FONT}
      >
        <text x={362.5} y={49} textAnchor="middle" fontSize={24} fill="#000">
          curvHDR gate with τ=0.1
        </text>
        <text x={362.5} y={663} textAnchor="middle" fontSize={17.5} fill="#000">
          sinh<tspan fontSize={11.5} dy={-7}>−1</tspan>
          <tspan dy={7}>(fluorescence) (channel 2)</tspan>
        </text>
        <text
          x={19}
          y={331.5}
          transform="rotate(-90, 19, 331.5)"
          textAnchor="middle"
          fontSize={17}
          fill="#000"
        >
          sinh<tspan fontSize={11} dy={-7}>−1</tspan>
          <tspan dy={7}>(side–scatter)</tspan>
        </text>
      </svg>
    </div>
  );
}
